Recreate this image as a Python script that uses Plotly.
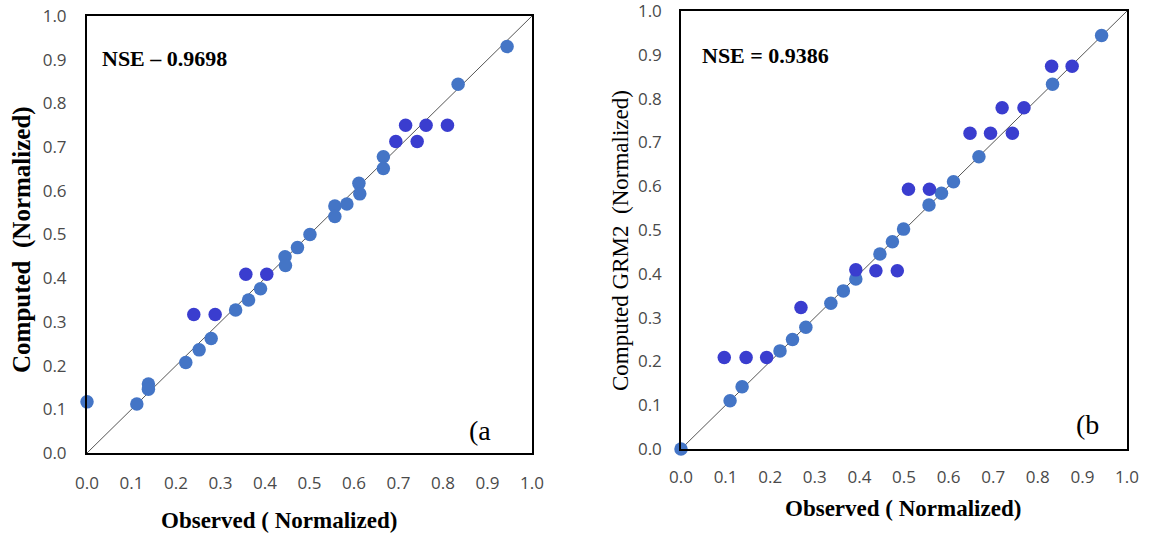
import plotly.graph_objects as go

W, H = 1149, 535

# Panel (a) data: observed vs computed (normalized)
a_light_obs = [0.0, 0.112, 0.138, 0.138, 0.222, 0.252, 0.279, 0.334, 0.363, 0.390, 0.445, 0.446,
               0.473, 0.501, 0.557, 0.557, 0.584, 0.611, 0.613, 0.666, 0.666, 0.834, 0.944]
a_light_cmp = [0.117, 0.112, 0.158, 0.146, 0.207, 0.236, 0.262, 0.327, 0.350, 0.376, 0.449, 0.429,
               0.470, 0.500, 0.565, 0.541, 0.570, 0.617, 0.593, 0.678, 0.651, 0.844, 0.930]
a_dark_obs = [0.240, 0.288, 0.357, 0.404, 0.694, 0.742, 0.716, 0.762, 0.810]
a_dark_cmp = [0.317, 0.317, 0.409, 0.409, 0.713, 0.713, 0.750, 0.750, 0.750]

# Panel (b) data: observed vs computed GRM2 (normalized)
b_light_obs = [0.0, 0.110, 0.137, 0.222, 0.250, 0.280, 0.336, 0.364, 0.392, 0.446, 0.474, 0.499,
               0.556, 0.584, 0.611, 0.668, 0.833, 0.943]
b_light_cmp = [0.0, 0.110, 0.142, 0.224, 0.250, 0.278, 0.333, 0.361, 0.388, 0.445, 0.473, 0.502,
               0.557, 0.584, 0.610, 0.667, 0.833, 0.944]
b_dark_obs = [0.097, 0.146, 0.192, 0.269, 0.392, 0.437, 0.485, 0.510, 0.557, 0.648, 0.694, 0.743,
              0.720, 0.769, 0.831, 0.877]
b_dark_cmp = [0.209, 0.209, 0.209, 0.323, 0.409, 0.407, 0.407, 0.593, 0.593, 0.721, 0.721, 0.721,
              0.779, 0.779, 0.874, 0.874]

ref_line = [0.0, 1.0]
tick_vals = [0.0, 0.1, 0.2, 0.3, 0.4, 0.5, 0.6, 0.7, 0.8, 0.9, 1.0]
tick_text = ["0.0", "0.1", "0.2", "0.3", "0.4", "0.5", "0.6", "0.7", "0.8", "0.9", "1.0"]

LIGHT = "#4475c6"
DARK = "#3a3dcf"

fig = go.Figure()

def add_panel(xa, ya, lo, lc, do, dc):
    fig.add_trace(go.Scatter(x=ref_line, y=ref_line, mode="lines",
                             line=dict(color="#555555", width=1),
                             xaxis=xa, yaxis=ya, showlegend=False, hoverinfo="skip"))
    fig.add_trace(go.Scatter(x=lo, y=lc, mode="markers",
                             marker=dict(color=LIGHT, size=13.5),
                             xaxis=xa, yaxis=ya, showlegend=False, cliponaxis=False))
    fig.add_trace(go.Scatter(x=do, y=dc, mode="markers",
                             marker=dict(color=DARK, size=13.5),
                             xaxis=xa, yaxis=ya, showlegend=False, cliponaxis=False))

add_panel("x", "y", a_light_obs, a_light_cmp, a_dark_obs, a_dark_cmp)
add_panel("x2", "y2", b_light_obs, b_light_cmp, b_dark_obs, b_dark_cmp)

tick_font = dict(family="Open Sans, Noto Sans, sans-serif", size=17, color="#4a4a4a")

def ax(domain, anchor, lw, standoff):
    return dict(domain=domain, anchor=anchor, range=[0, 1], tickvals=tick_vals, ticktext=tick_text,
                showgrid=False, zeroline=False, showline=True, linecolor="black", linewidth=lw,
                mirror=True, ticks="", tickfont=tick_font, ticklabelstandoff=standoff,
                ticklabeloverflow="allow", automargin=False, fixedrange=True)

fig.update_layout(
    width=W, height=H,
    margin=dict(l=0, r=0, t=0, b=0),
    paper_bgcolor="white", plot_bgcolor="white",
    xaxis=ax([87 / W, 532 / W], "y", 2, 14),
    yaxis=ax([1 - 453 / H, 1 - 16 / H], "x", 2, 15),
    xaxis2=ax([681 / W, 1127 / W], "y2", 2, 12),
    yaxis2=ax([1 - 449 / H, 1 - 11 / H], "x2", 1.5, 14),
)

serif = "Liberation Serif, Times New Roman, serif"
ann = [
    dict(text="<b>NSE – 0.9698</b>", x=100 / W, y=1 - 59 / H, xanchor="left", yanchor="middle",
         font=dict(family=serif, size=22, color="black")),
    dict(text="<b>NSE = 0.9386</b>", x=700 / W, y=1 - 55 / H, xanchor="left", yanchor="middle",
         font=dict(family=serif, size=22, color="black")),
    dict(text="(a", x=480 / W, y=1 - 430 / H, xanchor="center", yanchor="middle",
         font=dict(family=serif, size=28, color="black")),
    dict(text="(b", x=1087 / W, y=1 - 424 / H, xanchor="center", yanchor="middle",
         font=dict(family=serif, size=28, color="black")),
    dict(text="<b>Observed ( Normalized)</b>", x=279 / W, y=1 - 520 / H, xanchor="center", yanchor="middle",
         font=dict(family=serif, size=23, color="black")),
    dict(text="<b>Observed ( Normalized)</b>", x=903 / W, y=1 - 508 / H, xanchor="center", yanchor="middle",
         font=dict(family=serif, size=23, color="black")),
    dict(text="<b>Computed  (Normalized)</b>", x=22 / W, y=1 - 240 / H, xanchor="center", yanchor="middle",
         textangle=-90, font=dict(family=serif, size=25, color="black")),
    dict(text="Computed GRM2  (Normalized)", x=620 / W, y=1 - 241 / H, xanchor="center", yanchor="middle",
         textangle=-90, font=dict(family=serif, size=23, color="black")),
]
for a in ann:
    a.update(xref="paper", yref="paper", showarrow=False)
fig.update_layout(annotations=ann)

fig.write_html("out.html", config={"displayModeBar": False},
               post_script="document.body.style.margin='0';document.body.style.padding='0';")
